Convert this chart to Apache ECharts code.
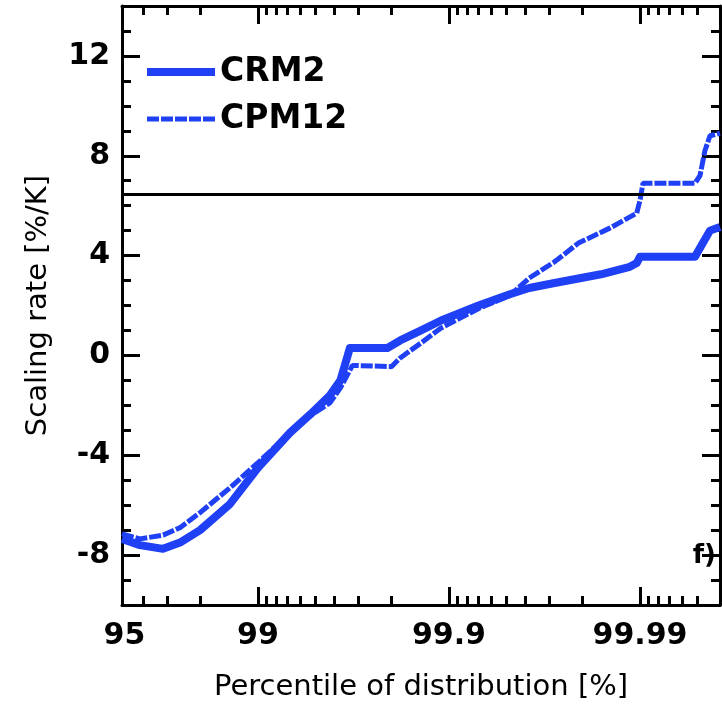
<!DOCTYPE html>
<html>
<head>
<meta charset="utf-8">
<script src="https://cdn.jsdelivr.net/npm/echarts@6/dist/echarts.min.js"></script>
<style>
html,body{margin:0;padding:0;background:#fff;}
#chart{width:722px;height:708px;}
</style>
</head>
<body>
<div id="chart"></div>
<script>
// ---- data (percentile of distribution [%], scaling rate [%/K]) ----
const CRM2_PCT = [94.85, 95.85, 96.86, 97.44, 97.99, 98.6, 99.0, 99.32, 99.47, 99.58, 99.63, 99.67, 99.79, 99.82, 99.86, 99.89, 99.93, 99.952, 99.962, 99.972, 99.984, 99.9887, 99.9896, 99.99, 99.99485, 99.99515, 99.9957, 99.99619];
const CRM2_VAL = [-7.35, -7.6, -7.75, -7.5, -7.0, -5.95, -4.5, -3.1, -2.35, -1.6, -1.0, 0.3, 0.3, 0.6, 1.0, 1.4, 2.0, 2.45, 2.7, 2.9, 3.25, 3.55, 3.7, 3.95, 3.95, 4.3, 5.0, 5.15];

const CPM12_PCT = [94.85, 95.85, 96.86, 97.44, 97.99, 98.6, 99.0, 99.32, 99.47, 99.58, 99.63, 99.68, 99.80, 99.82, 99.86, 99.89, 99.931, 99.952, 99.962, 99.972, 99.979, 99.9856, 99.9896, 99.99, 99.99036, 99.99485, 99.99515, 99.99543, 99.9957, 99.99619];
const CPM12_VAL = [-7.15, -7.35, -7.2, -6.9, -6.3, -5.3, -4.3, -3.1, -2.4, -1.9, -1.3, -0.4, -0.45, -0.1, 0.5, 1.1, 1.9, 2.4, 3.1, 3.75, 4.5, 5.1, 5.7, 6.2, 6.9, 6.9, 7.2, 8.2, 8.8, 8.9];

const SERIES_NAMES = ['CRM2', 'CPM12'];
const REFERENCE_RATE = 6.45;

const X_LABEL_PCT = [95, 99, 99.9, 99.99];
const X_TICK_LABELS = ['95', '99', '99.9', '99.99'];
const X_MAJOR_TICK_PCT = [99, 99.9, 99.99];
const X_MINOR_TICK_PCT = [96, 97, 98, 99.1, 99.2, 99.3, 99.4, 99.5, 99.6, 99.7, 99.8, 99.91, 99.92, 99.93, 99.94, 99.95, 99.96, 99.97, 99.98, 99.991, 99.992, 99.993, 99.994, 99.995];
const X_MIN_PCT = 94.85;
const X_MAX_PCT = 99.99619;

const Y_MAJOR = [-8, -4, 0, 4, 8, 12];
const Y_MINOR = [-9, -7, -6, -5, -3, -2, -1, 1, 2, 3, 5, 6, 7, 9, 10, 11, 13];
const Y_MIN = -10, Y_MAX = 14;

// ---- transform percentile to exceedance log scale ----
const tx = p => -Math.log10(100 - p);
const pairs = (ps, vs) => ps.map((p, i) => [tx(p), vs[i]]);

const BLUE = '#1f40f5';
const FONT = 'DejaVu Sans';
const gridRect = {left: 122, right: 2, top: 6, bottom: 103};
const xMin = tx(X_MIN_PCT), xMax = tx(X_MAX_PCT);

function xAxisMajor(pos, showLabel) {
  return {
    type: 'value', gridIndex: 0, position: pos, min: xMin, max: xMax,
    axisLine: {show: true, onZero: false, lineStyle: {color: '#000', width: 3}},
    splitLine: {show: false},
    axisTick: {show: true, inside: true, length: 18, lineStyle: {color: '#000', width: 3}, customValues: X_MAJOR_TICK_PCT.map(tx)},
    axisLabel: {
      show: showLabel, margin: 16, color: '#000', fontFamily: FONT, fontWeight: 'bold', fontSize: 30,
      customValues: X_LABEL_PCT.map(tx),
      formatter: v => { const i = X_LABEL_PCT.findIndex(p => Math.abs(tx(p) - v) < 1e-6); return i >= 0 ? X_TICK_LABELS[i] : ''; }
    },
    name: showLabel ? 'Percentile of distribution [%]' : '',
    nameLocation: 'middle', nameGap: 68,
    nameTextStyle: {color: '#000', fontFamily: FONT, fontSize: 29}
  };
}
function xAxisMinor(pos) {
  return {
    type: 'value', gridIndex: 1, position: pos, min: xMin, max: xMax,
    axisLine: {show: false, onZero: false},
    splitLine: {show: false},
    axisTick: {show: true, inside: true, length: 9, lineStyle: {color: '#000', width: 3}, customValues: X_MINOR_TICK_PCT.map(tx)},
    axisLabel: {show: false}
  };
}
function yAxisMajor(pos, showLabel) {
  return {
    type: 'value', gridIndex: 0, position: pos, min: Y_MIN, max: Y_MAX,
    axisLine: {show: true, onZero: false, lineStyle: {color: '#000', width: 3}},
    splitLine: {show: false},
    axisTick: {show: true, inside: true, length: 18, lineStyle: {color: '#000', width: 3}, customValues: Y_MAJOR},
    axisLabel: {show: showLabel, margin: 12, color: '#000', fontFamily: FONT, fontWeight: 'bold', fontSize: 30, customValues: Y_MAJOR},
    name: showLabel ? 'Scaling rate [%/K]' : '',
    nameLocation: 'middle', nameGap: 69,
    nameTextStyle: {color: '#000', fontFamily: FONT, fontSize: 29}
  };
}
function yAxisMinor(pos) {
  return {
    type: 'value', gridIndex: 1, position: pos, min: Y_MIN, max: Y_MAX,
    axisLine: {show: false, onZero: false},
    splitLine: {show: false},
    axisTick: {show: true, inside: true, length: 9, lineStyle: {color: '#000', width: 3}, customValues: Y_MINOR},
    axisLabel: {show: false}
  };
}

const chart = echarts.init(document.getElementById('chart'), null, {renderer: 'canvas'});
chart.setOption({
  animation: false,
  backgroundColor: '#fff',
  grid: [Object.assign({}, gridRect), Object.assign({}, gridRect)],
  xAxis: [xAxisMajor('bottom', true), xAxisMajor('top', false), xAxisMinor('bottom'), xAxisMinor('top')],
  yAxis: [yAxisMajor('left', true), yAxisMajor('right', false), yAxisMinor('left'), yAxisMinor('right')],
  legend: {
    show: true, orient: 'vertical', left: 138, top: 49, selectedMode: false,
    itemWidth: 68, itemHeight: 14, itemGap: 11,
    lineStyle: {width: 'inherit', type: 'inherit'},
    itemStyle: {opacity: 0},
    textStyle: {color: '#000', fontFamily: FONT, fontWeight: 'bold', fontSize: 33, lineHeight: 36},
    data: SERIES_NAMES
  },
  graphic: [{
    type: 'text', right: 6, top: 543,
    style: {text: 'f)', fill: '#000', font: 'bold 26px "DejaVu Sans"'}
  }],
  series: [
    {
      name: SERIES_NAMES[0], type: 'line', xAxisIndex: 0, yAxisIndex: 0,
      data: pairs(CRM2_PCT, CRM2_VAL), symbol: 'none', showSymbol: false,
      lineStyle: {color: BLUE, width: 8, join: 'round'}, itemStyle: {color: BLUE},
      z: 3,
      markLine: {
        silent: true, symbol: ['none', 'none'], label: {show: false},
        lineStyle: {color: '#000', width: 3, type: 'solid'},
        data: [{yAxis: REFERENCE_RATE}]
      }
    },
    {
      name: SERIES_NAMES[1], type: 'line', xAxisIndex: 0, yAxisIndex: 0,
      data: pairs(CPM12_PCT, CPM12_VAL), symbol: 'none', showSymbol: false,
      lineStyle: {color: BLUE, width: 5, type: [12, 2]}, itemStyle: {color: BLUE},
      z: 3
    }
  ]
});
</script>
</body>
</html>
